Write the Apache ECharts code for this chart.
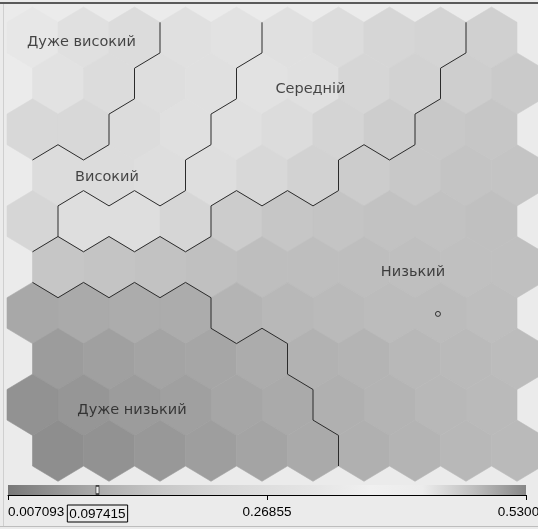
<!DOCTYPE html>
<html>
<head>
<meta charset="utf-8">
<script src="https://cdn.jsdelivr.net/npm/echarts@6/dist/echarts.min.js"></script>
<style>
html, body { margin: 0; padding: 0; background: #ebebeb; }
#main { width: 538px; height: 529px; }
</style>
</head>
<body>
<div id="main"></div>
<script>
// SOM component plane: 10 x 10 hex cells, top row first, odd rows shifted half a cell right
var cellValues = [
  [0.327, 0.282, 0.256, 0.282, 0.295, 0.282, 0.256, 0.216, 0.209, 0.194],
  [0.295, 0.256, 0.269, 0.282, 0.295, 0.282, 0.216, 0.201, 0.186, 0.172],
  [0.229, 0.229, 0.256, 0.282, 0.282, 0.256, 0.209, 0.183, 0.164, 0.159],
  [0.256, 0.256, 0.269, 0.269, 0.229, 0.201, 0.179, 0.164, 0.155, 0.155],
  [0.216, 0.269, 0.269, 0.216, 0.179, 0.159, 0.155, 0.150, 0.150, 0.145],
  [0.159, 0.155, 0.150, 0.145, 0.140, 0.140, 0.140, 0.143, 0.145, 0.145],
  [0.093, 0.097, 0.101, 0.101, 0.117, 0.126, 0.131, 0.136, 0.136, 0.140],
  [0.071, 0.078, 0.086, 0.089, 0.101, 0.112, 0.117, 0.126, 0.131, 0.136],
  [0.052, 0.059, 0.071, 0.078, 0.089, 0.097, 0.108, 0.117, 0.126, 0.131],
  [0.046, 0.052, 0.063, 0.074, 0.086, 0.097, 0.108, 0.117, 0.126, 0.131]
];
// cluster of every cell (index into clusterNames)
var cellCluster = [
  [0, 0, 0, 1, 1, 2, 2, 2, 2, 3],
  [0, 0, 1, 1, 2, 2, 2, 2, 3, 3],
  [0, 0, 1, 1, 2, 2, 2, 2, 3, 3],
  [1, 1, 1, 2, 2, 2, 3, 3, 3, 3],
  [1, 2, 2, 2, 3, 3, 3, 3, 3, 3],
  [3, 3, 3, 3, 3, 3, 3, 3, 3, 3],
  [4, 4, 4, 4, 3, 3, 3, 3, 3, 3],
  [4, 4, 4, 4, 4, 3, 3, 3, 3, 3],
  [4, 4, 4, 4, 4, 4, 3, 3, 3, 3],
  [4, 4, 4, 4, 4, 4, 3, 3, 3, 3]
];
var clusterNames = ['Дуже високий', 'Високий', 'Середній', 'Низький', 'Дуже низький'];
// where each cluster name sits on the map (column, row)
var clusterLabelAt = [[0.96, 0.10], [1.46, 3.05], [5.45, 1.12], [7.46, 5.11], [1.95, 8.11]];
var markedCell = [7.95, 6.02];

// colour scale
var scaleMin = 0.007093, scaleMid = 0.26855, scaleMax = 0.530017;
var selectedValue = 0.097415;
var scaleColors = ['#787878', '#969696', '#b2b2b2', '#c8c8c8', '#d6d6d6', '#dedede',
                   '#e6e6e6', '#f0f0f0', '#ececec', '#bebebe', '#878787'];
var scaleLabels = {};
scaleLabels[scaleMin] = '0.007093';
scaleLabels[selectedValue] = '{box|0.097415}';
scaleLabels[scaleMid] = '0.26855';
scaleLabels[scaleMax] = '0.530017';

var nRows = cellValues.length, nCols = cellValues[0].length;
var cells = [];
for (var r = 0; r < nRows; r++) {
  for (var k = 0; k < nCols; k++) {
    cells.push([k + (r % 2) * 0.5, r, cellValues[r][k], r, k]);
  }
}

function hexCorners(api) {
  var c = api.coord([api.value(0), api.value(1)]);
  var s = api.size([1, 1]);
  var w = s[0] / 2, h = s[1] / 1.5;
  return [
    [c[0], c[1] - h], [c[0] + w, c[1] - h / 2], [c[0] + w, c[1] + h / 2],
    [c[0], c[1] + h], [c[0] - w, c[1] + h / 2], [c[0] - w, c[1] - h / 2]
  ];
}

function clusterOf(r, k) {
  if (r < 0 || r >= nRows || k < 0 || k >= nCols) return -1;
  return cellCluster[r][k];
}

function renderHex(params, api) {
  var col = api.visual('color');
  return {
    type: 'polygon',
    shape: { points: hexCorners(api) },
    style: { fill: col, stroke: col, lineWidth: 0.6 }
  };
}

function renderBorder(params, api) {
  var r = api.value(3), k = api.value(4);
  var p = hexCorners(api);
  var me = cellCluster[r][k];
  var odd = r % 2;
  // east, south-east, south-west neighbours and the edge they share
  var nb = [
    [r, k + 1, p[1], p[2]],
    [r + 1, odd ? k + 1 : k, p[2], p[3]],
    [r + 1, odd ? k : k - 1, p[3], p[4]]
  ];
  var children = [];
  nb.forEach(function (n) {
    var other = clusterOf(n[0], n[1]);
    if (other >= 0 && other !== me) {
      children.push({
        type: 'line',
        shape: { x1: n[2][0], y1: n[2][1], x2: n[3][0], y2: n[3][1] },
        style: { stroke: '#2b2b2b', lineWidth: 1 }
      });
    }
  });
  return { type: 'group', children: children };
}

function renderScaleBar(params, api) {
  var p0 = api.coord([api.value(0), 1]);
  var p1 = api.coord([api.value(1), 0]);
  var stops = scaleColors.map(function (c, i) {
    return { offset: i / (scaleColors.length - 1), color: c };
  });
  return {
    type: 'rect',
    shape: { x: p0[0], y: p0[1], width: p1[0] - p0[0], height: p1[1] - p0[1] },
    style: { fill: new echarts.graphic.LinearGradient(0, 0, 1, 0, stops) }
  };
}

var chart = echarts.init(document.getElementById('main'));
chart.setOption({
  backgroundColor: '#ebebeb',
  animation: false,
  textStyle: { fontFamily: 'DejaVu Sans' },
  grid: [
    { left: 7, top: 14.65, width: 510, height: 459, outerBoundsMode: 'none', containLabel: false },
    { left: 8, top: 485, width: 518, height: 10, outerBoundsMode: 'none', containLabel: false }
  ],
  xAxis: [
    { gridIndex: 0, type: 'value', min: -0.5, max: 9.5, show: false },
    {
      gridIndex: 1, type: 'value', min: scaleMin, max: scaleMax, offset: 2,
      axisLine: { show: true, lineStyle: { color: '#000', width: 1 } },
      axisTick: { show: true, length: 5, customValues: [scaleMin, scaleMid, scaleMax],
                  lineStyle: { color: '#000' } },
      splitLine: { show: false },
      axisLabel: {
        customValues: [scaleMin, selectedValue, scaleMid, scaleMax],
        formatter: function (v) { return scaleLabels[v] || ''; },
        alignMinLabel: 'left',
        alignMaxLabel: 'center',
        hideOverlap: false,
        margin: 8,
        color: '#000',
        fontSize: 13.5,
        fontFamily: 'Liberation Sans',
        rich: {
          box: { borderColor: '#000', borderWidth: 1, padding: [2, 2, 1, 2],
                 fontSize: 13.5, fontFamily: 'Liberation Sans', color: '#000' }
        }
      }
    }
  ],
  yAxis: [
    { gridIndex: 0, type: 'value', min: -0.5, max: 9.5, inverse: true, show: false },
    { gridIndex: 1, type: 'value', min: 0, max: 1, show: false }
  ],
  visualMap: {
    show: false,
    type: 'continuous',
    seriesIndex: 0,
    dimension: 2,
    min: scaleMin,
    max: scaleMax,
    inRange: { color: scaleColors }
  },
  graphic: [
    { type: 'rect', shape: { x: 0, y: 2, width: 538, height: 2 }, style: { fill: '#5a5a5a' }, silent: true },
    { type: 'rect', shape: { x: 3, y: 4, width: 1, height: 522 }, style: { fill: '#cfcfcf' }, silent: true },
    { type: 'rect', shape: { x: 0, y: 526, width: 538, height: 1 }, style: { fill: '#bdbdbd' }, silent: true }
  ],
  series: [
    {
      type: 'custom', xAxisIndex: 0, yAxisIndex: 0,
      renderItem: renderHex, data: cells, encode: { x: 0, y: 1 }, silent: true
    },
    {
      type: 'custom', xAxisIndex: 0, yAxisIndex: 0, z: 3,
      renderItem: renderBorder, data: cells, encode: { x: 0, y: 1 }, silent: true
    },
    {
      type: 'scatter', xAxisIndex: 0, yAxisIndex: 0, z: 4, silent: true,
      symbol: 'circle', symbolSize: 5,
      itemStyle: { color: 'rgba(0,0,0,0)', borderColor: '#111', borderWidth: 1 },
      data: [markedCell]
    },
    {
      type: 'scatter', xAxisIndex: 0, yAxisIndex: 0, z: 5, silent: true,
      symbolSize: 1, itemStyle: { color: 'rgba(0,0,0,0)' },
      label: {
        show: true, position: 'inside', color: '#1c1c1c', fontSize: 14.5,
        fontFamily: 'DejaVu Sans',
        formatter: function (p) { return p.value[2]; }
      },
      data: clusterLabelAt.map(function (pos, i) { return [pos[0], pos[1], clusterNames[i]]; })
    },
    {
      type: 'custom', xAxisIndex: 1, yAxisIndex: 1, silent: true,
      renderItem: renderScaleBar, data: [[scaleMin, scaleMax]], encode: { x: [0, 1] }
    },
    {
      type: 'scatter', xAxisIndex: 1, yAxisIndex: 1, z: 4, silent: true,
      symbol: 'rect', symbolSize: [3, 8],
      itemStyle: { color: '#fff', borderColor: '#000', borderWidth: 1 },
      data: [[selectedValue, 0.5]]
    }
  ]
});
</script>
</body>
</html>
